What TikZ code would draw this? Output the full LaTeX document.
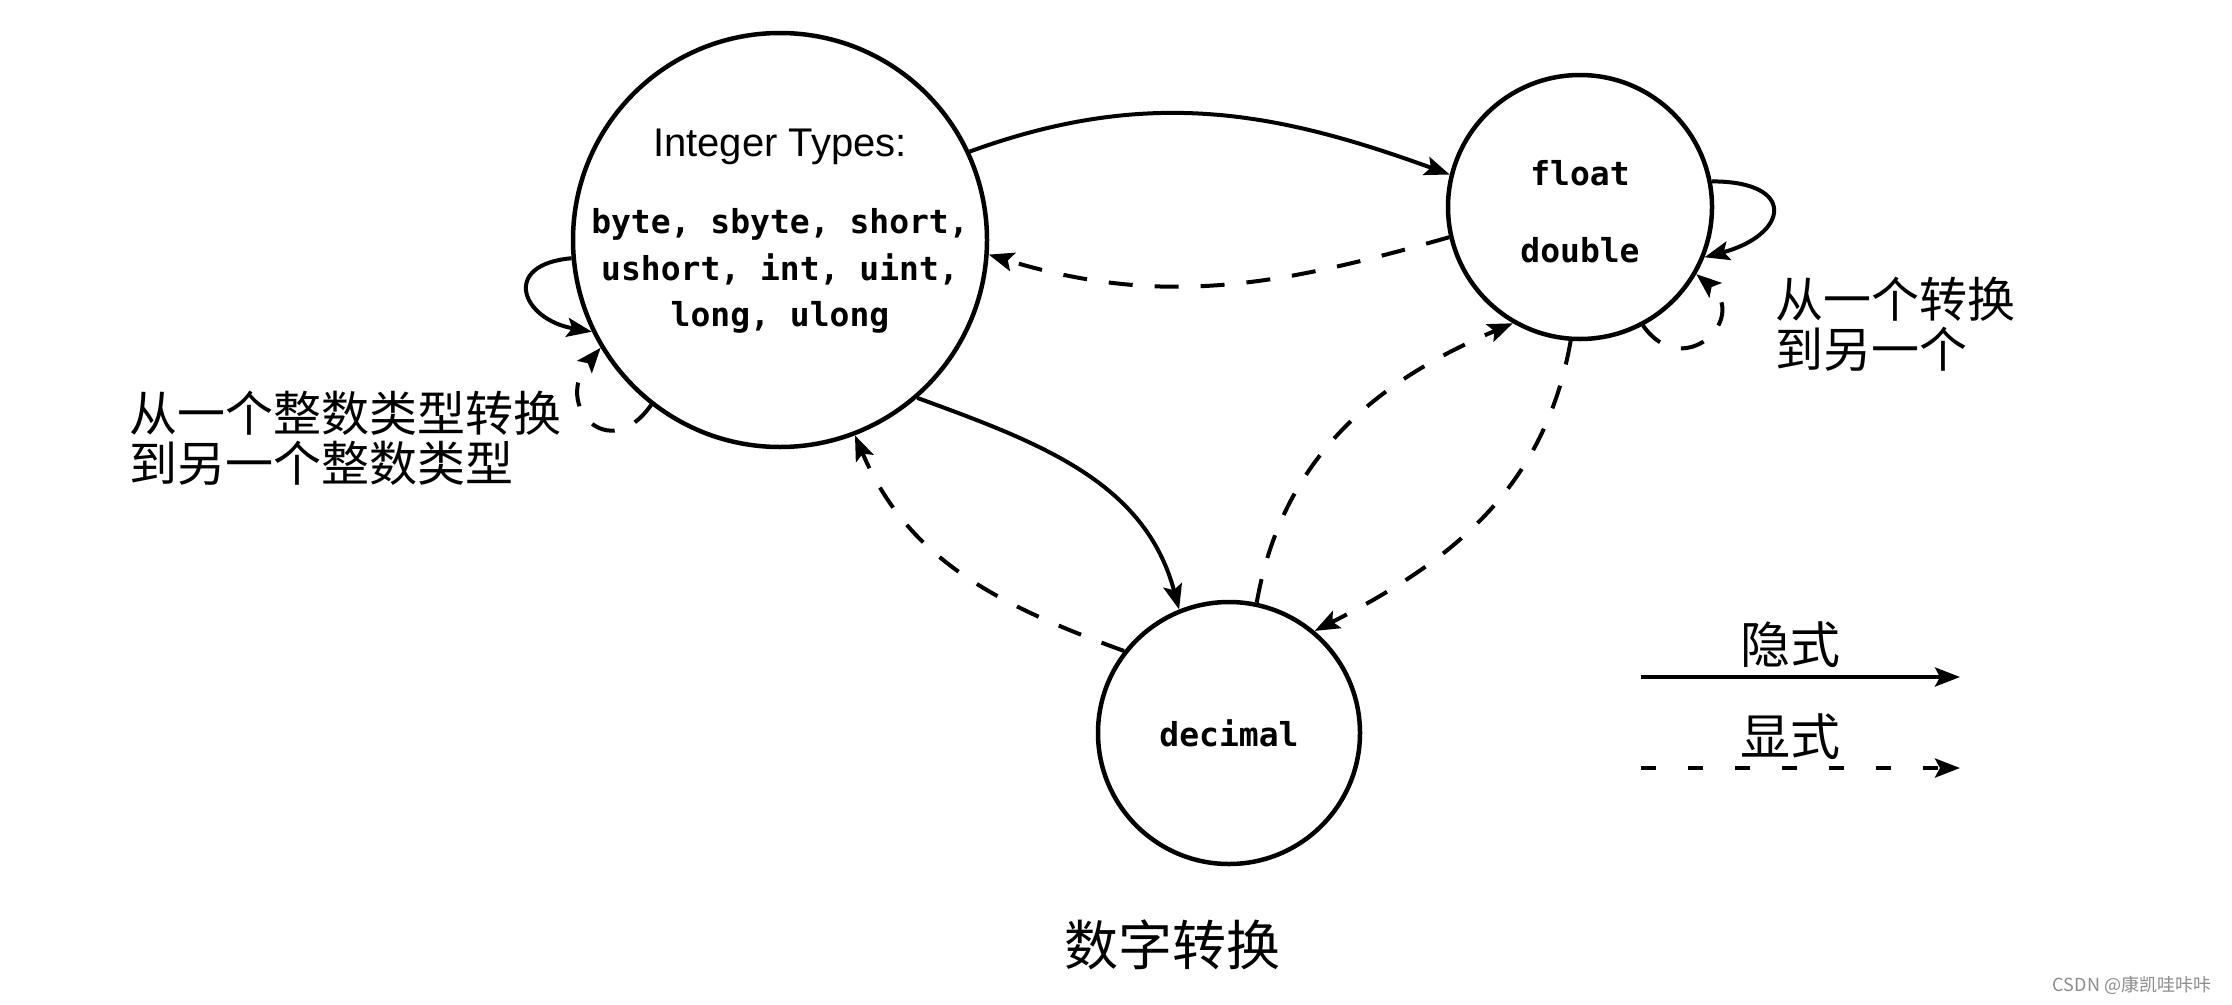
\documentclass[tikz,border=0pt]{standalone}
\usepackage{fontspec}
\setmainfont{Liberation Sans}
\setmonofont{DejaVu Sans Mono}
\newfontfamily\cjk{Noto Sans CJK SC}
\usetikzlibrary{arrows.meta}
\begin{document}
\begin{tikzpicture}[x=1pt,y=1pt,
  state/.style={circle,draw,line width=4.5pt,inner sep=0pt},
  conv/.style={line width=4pt,-{Stealth[length=25pt,width=19pt,inset=5pt]}},
  impl/.style={conv},
  expl/.style={conv,dash pattern=on 24pt off 22pt},
  cjklbl/.style={font=\cjk\fontsize{48}{50}\selectfont,align=left,inner sep=0pt},
  monotxt/.style={font=\ttfamily\bfseries\fontsize{33}{46.5}\selectfont,inner sep=0pt,align=center}
]
\fill[white] (0,0) rectangle (2232,-1004);
\useasboundingbox (0,0) rectangle (2232,-1004);

% states
\node[state,minimum size=414pt] (int) at (780,-240) {};
\node[inner sep=0pt,font=\fontsize{40}{48}\selectfont] (inttitle) at (780,-147) {Integer Types:};
\node[monotxt] (intlist) at (780,-271) {byte, sbyte, short,\\ushort, int, uint,\\long, ulong};

\node[state,minimum size=264pt] (flt) at (1580,-207) {};
\node[monotxt] (flttxt) at (1580,-173) {float};
\node[monotxt] (dbltxt) at (1580,-250) {double};

\node[state,minimum size=262pt] (dec) at (1229,-733) {};
\node[monotxt] (dectxt) at (1229,-733) {decimal};

% conversions
\draw[impl] (int.25) to[out=20,in=160] (flt.166);
\draw[expl] (flt.193) to[out=196,in=-17] (int.-4);
\draw[impl] (int.-49) to[out=-20,in=105] (dec.112);
\draw[expl] (dec.142) to[out=160,in=-67] (int.-69);
\draw[expl] (dec.78) to[out=80,in=203] (flt.240);
\draw[expl] (flt.266) to[out=-100,in=27] (dec.50);

% self loops
\draw[impl] (int.185) to[out=185,in=170,looseness=2.4] (int.206);
\draw[expl] (int.232) to[out=235,in=230,looseness=2.5] (int.211);
\draw[impl] (flt.11) to[out=0,in=15,looseness=2.9] (flt.-22);
\draw[expl] (flt.-62) to[out=-55,in=-40,looseness=2.4] (flt.-30);

% labels
\node[cjklbl,anchor=west] (lbl1) at (129,-438) {从一个整数类型转换\\到另一个整数类型};
\node[cjklbl,anchor=west] (lbl2) at (1775,-324) {从一个转换\\到另一个};

% legend
\node[cjklbl,font=\cjk\fontsize{50}{50}\selectfont] (limp) at (1790,-645) {隐式};
\coordinate (impS) at (1641,-677);
\coordinate (impE) at (1960,-677);
\draw[impl] (impS) -- (impE);
\node[cjklbl,font=\cjk\fontsize{50}{50}\selectfont] (lexp) at (1790,-737) {显式};
\coordinate (expS) at (1641,-768);
\coordinate (expE) at (1960,-768);
\draw[conv,dash pattern=on 15pt off 32pt] (expS) -- (expE);

% caption
\node[inner sep=0pt,font=\cjk\fontsize{54}{54}\selectfont] (title) at (1172,-945) {数字转换};
\node[inner sep=0pt,font=\cjk\fontsize{18}{18}\selectfont,text=black!45] (wm) at (2132,-985) {CSDN @康凯哇咔咔};
\end{tikzpicture}
\end{document}
